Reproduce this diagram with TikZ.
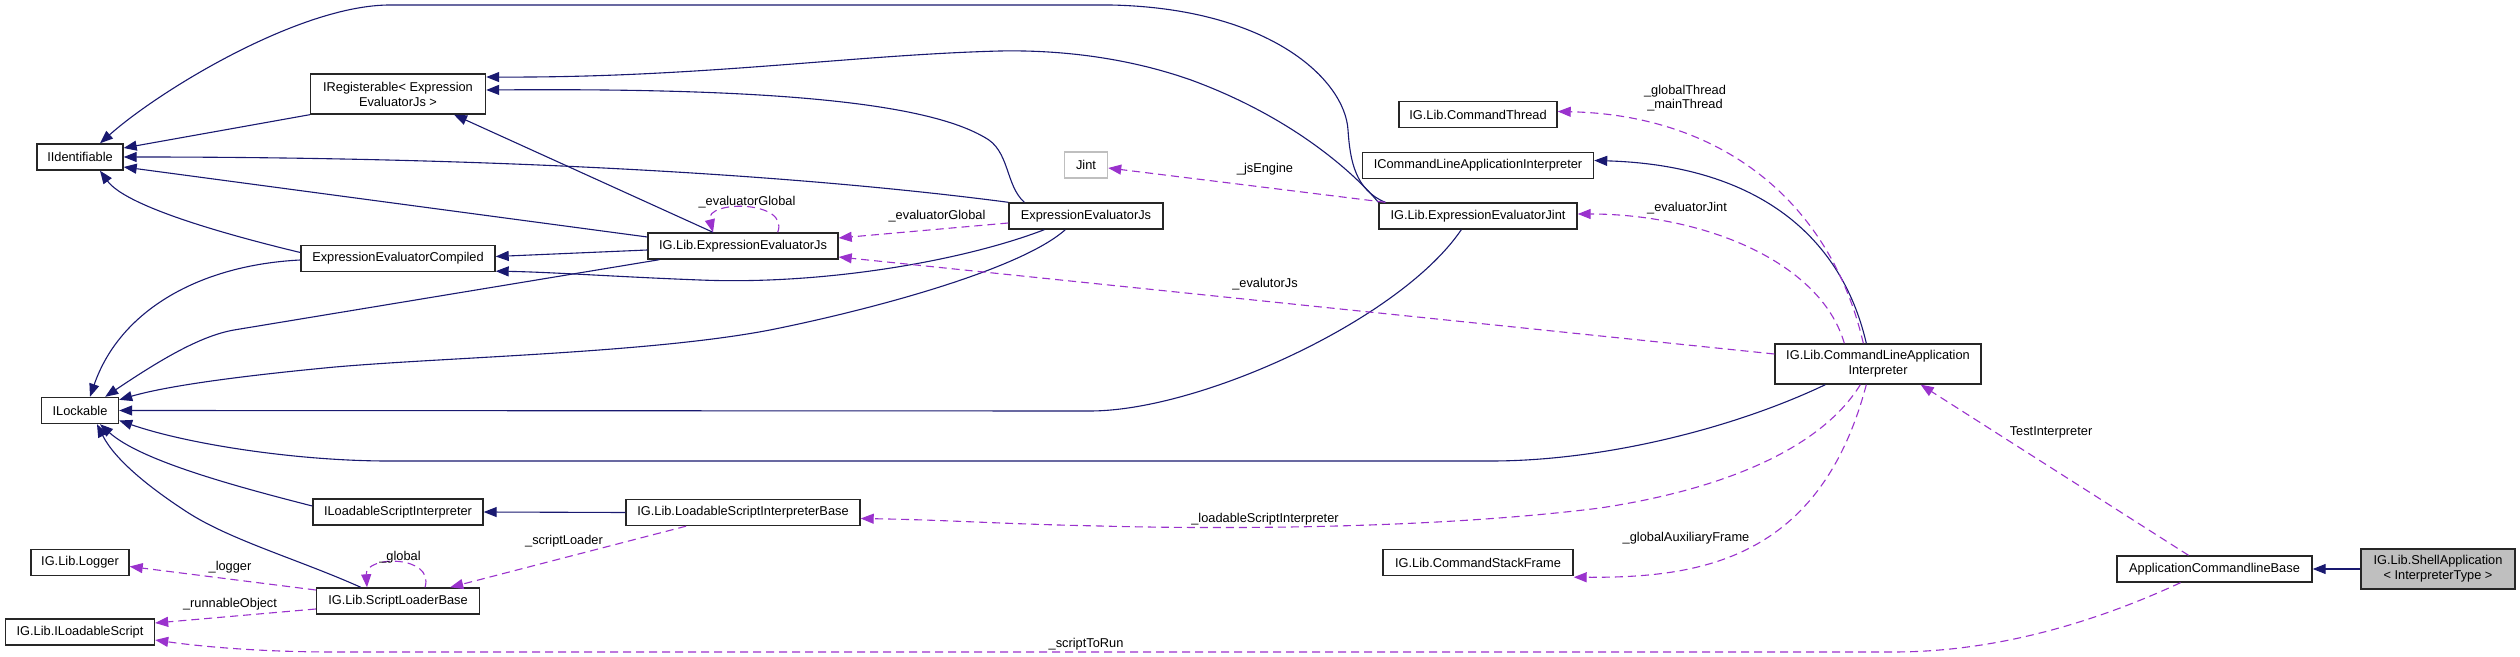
\documentclass[tikz,border=0pt]{standalone}
\usepackage{fontspec}
\setmainfont{Liberation Sans}
\usetikzlibrary{arrows.meta,calc}
\definecolor{navy}{HTML}{191970}
\definecolor{orch}{HTML}{9A32CD}
\definecolor{boxgray}{HTML}{BFBFBF}
\begin{document}
\begin{tikzpicture}[x=0.5pt,y=-0.5pt,
  box/.style={draw=black!85,line width=0.7pt,fill=white,inner sep=0pt,align=center,
    font=\fontsize{6.4}{7.5}\selectfont,minimum height=13pt},
  tall/.style={minimum height=20pt},
  inh/.style={draw=navy,line width=0.55pt,-{Triangle[length=6.5pt,width=5pt]}},
  use/.style={draw=orch,line width=0.55pt,dash pattern=on 4pt off 2.5pt,-{Triangle[length=6.5pt,width=5pt]}},
  lbl/.style={inner sep=0pt,align=center,font=\fontsize{6.4}{6.8}\selectfont}]
\useasboundingbox (0,0) rectangle (2520,657);
\fill[white] (0,0) rectangle (2520,657);

% nodes
\node[box,minimum width=43pt] (iid) at (80,157) {IIdentifiable};
\node[box,tall,minimum width=87.5pt] (ireg) at (398,94) {IRegisterable< Expression\\EvaluatorJs >};
\node[box,minimum width=97pt] (eec) at (398,258.5) {ExpressionEvaluatorCompiled};
\node[box,minimum width=95pt] (igeejs) at (743,246) {IG.Lib.ExpressionEvaluatorJs};
\node[box,minimum width=77pt] (eejs) at (1086,216) {ExpressionEvaluatorJs};
\node[box,draw=boxgray,minimum width=21.5pt] (jint) at (1086,165) {Jint};
\node[box,minimum width=99pt] (jintc) at (1478,216) {IG.Lib.ExpressionEvaluatorJint};
\node[box,minimum width=79pt] (cthread) at (1478,114.5) {IG.Lib.CommandThread};
\node[box,minimum width=115.5pt] (iclai) at (1478,165.5) {ICommandLineApplicationInterpreter};
\node[box,tall,minimum width=103pt] (clai) at (1878,364) {IG.Lib.CommandLineApplication\\Interpreter};
\node[box,minimum width=38.5pt] (ilock) at (80,410.5) {ILockable};
\node[box,minimum width=85pt] (ilsi) at (398,512) {ILoadableScriptInterpreter};
\node[box,minimum width=117pt] (lsib) at (743,512.5) {IG.Lib.LoadableScriptInterpreterBase};
\node[box,minimum width=49pt] (logger) at (80,562.5) {IG.Lib.Logger};
\node[box,minimum width=81.5pt] (slb) at (398,601) {IG.Lib.ScriptLoaderBase};
\node[box,minimum width=74.5pt] (ils) at (80,632) {IG.Lib.ILoadableScript};
\node[box,minimum width=95pt] (csf) at (1478,562.5) {IG.Lib.CommandStackFrame};
\node[box,minimum width=97.5pt] (acb) at (2214.5,569) {ApplicationCommandlineBase};
\node[box,tall,fill=boxgray,minimum width=77pt] (shell) at (2438,569) {IG.Lib.ShellApplication\\< InterpreterType >};

% inheritance edges
\draw[inh] (ireg.south west) -- ($(iid.east)+(0,-9)$);
\draw[inh] ($(eec.west)+(0,-6)$) .. controls (215,232) and (125,205) .. ($(iid.south)+(20,0)$);
\draw[inh] ($(igeejs.west)+(0,-9)$) -- ($(iid.east)+(0,10)$);
\draw[inh] (eejs.north west) .. controls (800,175) and (500,157) .. (iid.east);
\draw[inh] ($(jintc.north west)+(7,0)$) .. controls (1355,190) and (1350,160) .. (1348,130)
  .. controls (1345,80) and (1270,8) .. (1110,5) -- (390,5)
  .. controls (300,5) and (160,90) .. ($(iid.north)+(20,0)$);
\draw[inh] (jintc.north west) .. controls (1360,180) and (1300,120) .. (1191,80)
  .. controls (1120,55) and (1050,50) .. (1000,51)
  .. controls (850,55) and (700,78) .. ($(ireg.east)+(0,-17)$);
\draw[inh] ($(eejs.north west)+(16,0)$) .. controls (1005,185) and (1010,150) .. (984,137)
  .. controls (920,100) and (750,88) .. ($(ireg.east)+(0,-4)$);
\draw[inh] ($(igeejs.north)+(-30,0)$) -- ($(ireg.south)+(56,0)$);
\draw[inh] ($(igeejs.west)+(0,4)$) -- ($(eec.east)+(0,-2)$);
\draw[inh] ($(eejs.south west)+(36,0)$) .. controls (960,262) and (820,285) .. (700,280)
  .. controls (620,277) and (550,272) .. ($(eec.south east)+(0,-1)$);
\draw[inh] ($(eejs.south west)+(57,0)$) .. controls (1020,270) and (870,310) .. (770,330)
  .. controls (650,353) and (450,357) .. (335,367)
  .. controls (250,375) and (170,385) .. ($(ilock.north east)+(0,3)$);
\draw[inh] ($(igeejs.south west)+(12,0)$) -- (234,330) .. controls (200,336) and (160,360) .. ($(ilock.north east)+(-14,0)$);
\draw[inh] ($(eec.west)+(0,1.5)$) .. controls (200,265) and (120,310) .. ($(ilock.north)+(10,0)$);
\draw[inh] ($(jintc.south west)+(83,0)$) .. controls (1400,320) and (1200,411) .. (1090,411) -- (ilock.east);
\draw[inh] ($(clai.south west)+(51,0)$) .. controls (1730,430) and (1600,461) .. (1491,461) -- (388,461)
  .. controls (300,461) and (190,445) .. ($(ilock.east)+(0,10)$);
\draw[inh] ($(ilsi.west)+(0,-6)$) .. controls (230,485) and (140,460) .. ($(ilock.south)+(20,0)$);
\draw[inh] ($(slb.north west)+(45,0)$) .. controls (300,560) and (230,540) .. (187,512)
  .. controls (150,488) and (115,460) .. ($(ilock.south)+(17,0)$);
\draw[inh] (lsib.west) -- (ilsi.east);
\draw[inh] ($(clai.north west)+(92,0)$) .. controls (1840,230) and (1750,165) .. ($(iclai.east)+(0,-5)$);
\draw[inh] (shell.west) -- (acb.east);

% usage edges
\draw[use] ($(igeejs.north east)+(-61,0)$) .. controls (790,200) and (705,200) .. ($(igeejs.north)+(-30,0)$);
\node[lbl] (l1) at (747,202) {\_evaluatorGlobal};
\draw[use] ($(eejs.west)+(0,7)$) -- ($(igeejs.east)+(0,-8)$);
\node[lbl] (l2) at (937,216) {\_evaluatorGlobal};
\draw[use] ($(clai.west)+(0,-10)$) -- ($(igeejs.east)+(0,11)$);
\node[lbl] (l3) at (1265,284) {\_evalutorJs};
\draw[use] ($(jintc.north west)+(7,0)$) -- ($(jint.east)+(0,3)$);
\node[lbl] (l4) at (1265,169) {\_jsEngine};
\draw[use] ($(clai.north west)+(89,0)$) .. controls (1830,200) and (1720,115) .. ($(cthread.east)+(0,-3)$);
\node[lbl] (l5) at (1685,98) {\_globalThread\\\_mainThread};
\draw[use] ($(clai.north west)+(70,0)$) .. controls (1820,260) and (1700,214) .. ($(jintc.east)+(0,-2)$);
\node[lbl] (l6) at (1687,208) {\_evaluatorJint};
\draw[use] ($(clai.south west)+(86,0)$) .. controls (1820,450) and (1720,490) .. (1600,508)
  .. controls (1450,527) and (1250,530) .. (1100,526)
  .. controls (1000,524) and (950,520) .. ($(lsib.east)+(0,6)$);
\node[lbl] (l7) at (1265,519) {\_loadableScriptInterpreter};
\draw[use] ($(clai.south west)+(92,0)$) .. controls (1820,560) and (1700,578) .. ($(csf.south east)+(0,1)$);
\node[lbl] (l8) at (1686,538) {\_globalAuxiliaryFrame};
\draw[use] ($(acb.north)+(-26,0)$) -- ($(clai.south east)+(-61,0)$);
\node[lbl] (l9) at (2051,432) {TestInterpreter};
\draw[use] ($(acb.south)+(-34,0)$) .. controls (2100,620) and (2000,652) .. (1893,652) -- (335,652)
  .. controls (250,652) and (190,645) .. ($(ils.east)+(0,8)$);
\node[lbl] (l10) at (1086,644) {\_scriptToRun};
\draw[use] ($(slb.north)+(27,0)$) .. controls (435,555) and (365,555) .. ($(slb.north)+(-31,0)$);
\node[lbl] (l11) at (400,557) {\_global};
\draw[use] ($(slb.west)+(0,-11)$) -- ($(logger.east)+(0,4)$);
\node[lbl] (l12) at (230,567) {\_logger};
\draw[use] ($(slb.west)+(0,8)$) -- ($(ils.east)+(0,-9)$);
\node[lbl] (l13) at (230,604) {\_runnableObject};
\draw[use] ($(lsib.south)+(-57,0)$) -- ($(slb.north east)+(-30,0)$);
\node[lbl] (l14) at (564,541) {\_scriptLoader};
\end{tikzpicture}
\end{document}
